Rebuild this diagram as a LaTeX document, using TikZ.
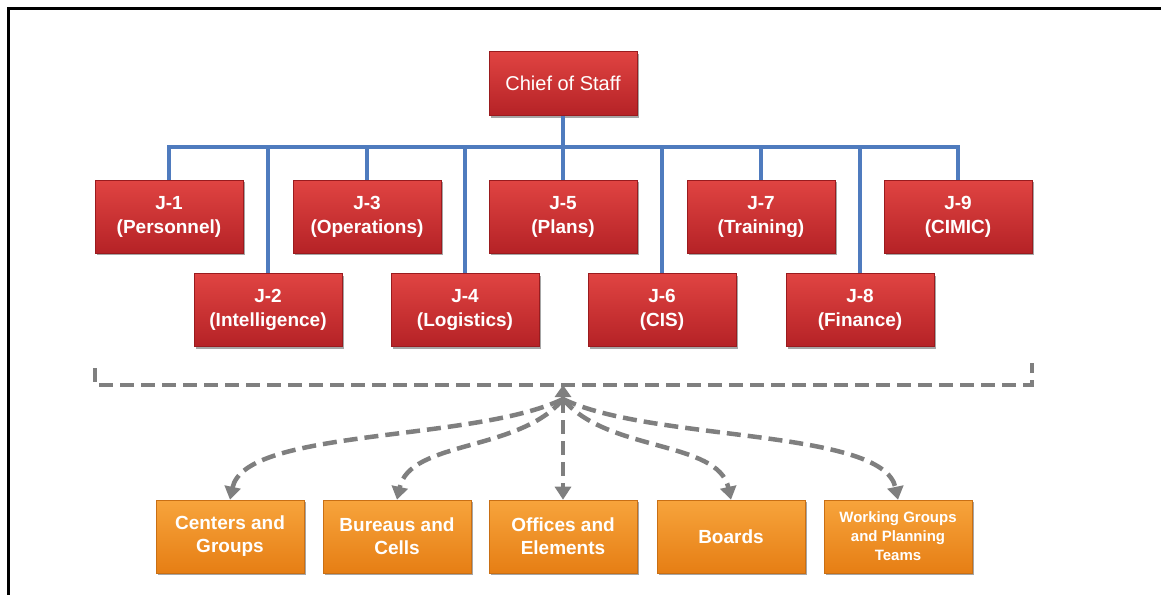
\documentclass[tikz,border=0pt]{standalone}
\usepackage{fontspec}
\setmainfont{Liberation Sans}
\usetikzlibrary{arrows.meta,shadows}

\definecolor{redtop}{HTML}{E04442}
\definecolor{redbot}{HTML}{B52226}
\definecolor{redline}{HTML}{9A1B1E}
\definecolor{orgtop}{HTML}{F7A43C}
\definecolor{orgbot}{HTML}{E67E14}
\definecolor{orgline}{HTML}{C96F14}
\definecolor{busblue}{HTML}{4F7BBE}
\definecolor{dashgray}{HTML}{7F7F7F}

\tikzset{
  boxshadow/.style={drop shadow={shadow xshift=1.5pt,shadow yshift=-2pt,opacity=0.35,fill=black}},
  redbox/.style={boxshadow, draw=redline, line width=0.6pt, top color=redtop, bottom color=redbot,
    minimum width=148pt, minimum height=73pt, align=center, text=white,
    font=\fontsize{19}{24}\selectfont\bfseries, inner sep=2pt},
  chiefbox/.style={redbox, minimum height=64pt, font=\fontsize{20}{24}\selectfont},
  orgbox/.style={boxshadow, draw=orgline, line width=0.6pt, top color=orgtop, bottom color=orgbot,
    minimum width=148pt, minimum height=73pt, align=center, text=white,
    font=\fontsize{19}{23}\selectfont\bfseries, inner sep=2pt},
  smallorg/.style={orgbox, font=\fontsize{15}{19}\selectfont\bfseries},
  busline/.style={draw=busblue, line width=3.5pt},
  graydash/.style={draw=dashgray, line width=4.5pt, dash pattern=on 14pt off 7pt},
  grayarrow/.style={graydash, -{Triangle[width=16pt,length=13pt]}},
  frameline/.style={draw=black, line width=2.5pt},
}

\begin{document}
\begin{tikzpicture}[x=1pt, y=-1pt]
\useasboundingbox (0,0) rectangle (1161,595);

% page frame (top and left edges)
\coordinate (fr) at (1161,8.5);
\coordinate (fc) at (8.5,8.5);
\coordinate (fb) at (8.5,595);
\draw[frameline] (fr) -- (fc) -- (fb);

% chief of staff and the staff directorates
\node[chiefbox] (chief) at (563,83.5) {Chief of Staff};

\node[redbox] (j1) at (169,216.5) {J-1\\(Personnel)};
\node[redbox] (j3) at (367,216.5) {J-3\\(Operations)};
\node[redbox] (j5) at (563,216.5) {J-5\\(Plans)};
\node[redbox] (j7) at (761,216.5) {J-7\\(Training)};
\node[redbox] (j9) at (958,216.5) {J-9\\(CIMIC)};

\node[redbox] (j2) at (268,310) {J-2\\(Intelligence)};
\node[redbox] (j4) at (465,310) {J-4\\(Logistics)};
\node[redbox] (j6) at (662,310) {J-6\\(CIS)};
\node[redbox] (j8) at (860,310) {J-8\\(Finance)};

% blue bus
\coordinate (bus) at (563,147);
\draw[busline] (chief.south) -- (bus);
\foreach \j in {j1,j2,j3,j4,j5,j6,j7,j8,j9}
  \draw[busline] (\j.north) |- (bus);

% dashed bracket under the directorates
\coordinate (bl) at (95,368);
\coordinate (blc) at (95,385);
\coordinate (brc) at (1032,385);
\coordinate (br) at (1032,363);
\draw[graydash] (bl) -- (blc) -- (brc) -- (br);

% hub
\coordinate (hub) at (563,385);
\coordinate (hubbase) at (563,399);
\draw[draw=dashgray, line width=4.5pt, -{Triangle[width=16pt,length=12pt]}] (hubbase) -- (hub);

% supporting structures
\node[orgbox] (cg) at (230,536.5) {Centers and\\Groups};
\node[orgbox] (bc) at (397,536.5) {Bureaus and\\Cells};
\node[orgbox] (oe) at (563,536.5) {Offices and\\Elements};
\node[orgbox] (bd) at (731,536.5) {Boards};
\node[smallorg] (wg) at (898,536.5) {Working Groups\\and Planning\\Teams};

\draw[grayarrow] (hubbase) .. controls (475,442) and (245,428) .. (cg.north);
\draw[grayarrow] (hubbase) .. controls (520,452) and (410,440) .. (bc.north);
\draw[grayarrow] (hubbase) -- (oe.north);
\draw[grayarrow] (hubbase) .. controls (606,452) and (718,440) .. (bd.north);
\draw[grayarrow] (hubbase) .. controls (651,442) and (883,428) .. (wg.north);
\end{tikzpicture}
\end{document}
